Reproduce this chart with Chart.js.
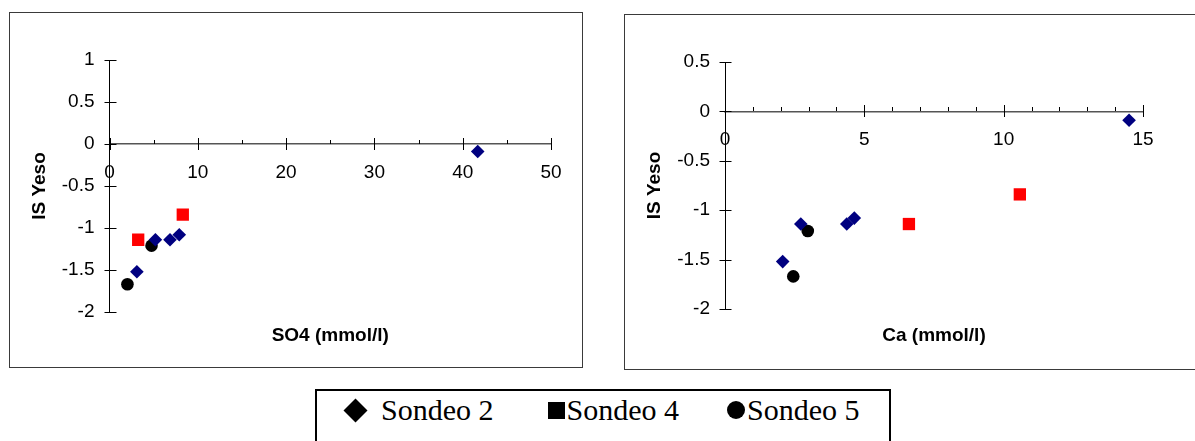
<!DOCTYPE html>
<html>
<head>
<meta charset="utf-8">
<script src="https://cdn.jsdelivr.net/npm/chart.js@4.4.1/dist/chart.umd.min.js"></script>
<style>
  html, body { margin: 0; padding: 0; background: #fff; overflow: hidden; }
  body { width: 1195px; height: 441px; position: relative; }
  .marco { position: absolute; border: 1px solid #3a3a3a; background: #fff; }
  #marcoSO4 { left: 9px; top: 12px; width: 572px; height: 354px; }
  #marcoCa { left: 624px; top: 14px; width: 580px; height: 354px; }
  .marco canvas { display: block; }
  #leyenda {
    position: absolute; left: 315px; top: 389px; width: 576px; height: 60px;
    border: 2px solid #000; box-sizing: border-box;
    font-family: 'Liberation Serif', 'Times New Roman', serif; font-size: 30px;
    line-height: 30px; color: #000;
    display: flex; align-items: flex-start; padding-left: 26px; padding-top: 4px;
  }
  #leyenda .item { display: flex; align-items: center; white-space: nowrap; }
  #leyenda .simbolo { display: inline-block; background: #000; }
  .rombo { width: 17px; height: 17px; transform: rotate(45deg); margin: 0 17px 0 4px; }
  .cuadro { width: 17px; height: 17px; margin-right: 2px; }
  .circulo { width: 18px; height: 18px; border-radius: 50%; margin-right: 2px; }
</style>
</head>
<body>
<div class="marco" id="marcoSO4"><canvas id="graficoSO4"></canvas></div>
<div class="marco" id="marcoCa"><canvas id="graficoCa"></canvas></div>
<div id="leyenda"></div>

<script>
// Sondeos
const sondeos = ['Sondeo 2', 'Sondeo 4', 'Sondeo 5'];

// IS yeso, SO4 y Ca (mmol/l) por sondeo
const isYesoS2 = [-0.09, -1.52, -1.14, -1.14, -1.08];
const so4S2 = [41.7, 3.1, 5.2, 6.85, 7.9];
const caS2 = [14.5, 2.07, 2.72, 4.37, 4.64];

const isYesoS4 = [-1.14, -0.84];
const so4S4 = [3.25, 8.3];
const caS4 = [6.6, 10.58];

const isYesoS5 = [-1.67, -1.21];
const so4S5 = [2.03, 4.76];
const caS5 = [2.45, 2.97];

// etiquetas de los ejes
const ticksSO4 = [0, 10, 20, 30, 40, 50];
const ticksCa = [0, 5, 10, 15];
const ticksYesoSO4 = [1, 0.5, 0, -0.5, -1, -1.5, -2];
const ticksYesoCa = [0.5, 0, -0.5, -1, -1.5, -2];
const menorSO4 = 5;
const menorCa = 1;

const fuente = '"Liberation Sans", Arial, sans-serif';

function puntos(xs, ys) {
    return xs.map((x, i) => ({ x: x, y: ys[i] }));
}

// marcas de los ejes (las principales cruzan el eje)
const marcasEjes = {
    id: 'marcasEjes',
    beforeDatasetsDraw(chart, args, opts) {
        const { ctx, scales: { x, y } } = chart;
        const y0 = Math.round(y.getPixelForValue(0));
        const x0 = Math.round(x.getPixelForValue(0)) + 0.5;
        ctx.save();
        ctx.lineWidth = 1;
        ctx.strokeStyle = '#000';
        ctx.beginPath();
        for (let v = x.min; v <= x.max + 1e-9; v += opts.menor) {
            const px = Math.round(x.getPixelForValue(v)) + 0.5;
            const mayor = x.ticks.some(t => Math.abs(t.value - v) < 1e-9);
            ctx.moveTo(px, y0 - (mayor ? 6 : 4));
            ctx.lineTo(px, y0 + (mayor ? 6 : 0));
        }
        y.ticks.forEach(t => {
            const py = Math.round(y.getPixelForValue(t.value)) + 0.5;
            ctx.moveTo(x0 - 6, py);
            ctx.lineTo(x0 + 6, py);
        });
        ctx.stroke();
        ctx.restore();
    }
};

// titulos de los ejes
const titulosEjes = {
    id: 'titulosEjes',
    afterDraw(chart, args, opts) {
        const { ctx, chartArea } = chart;
        ctx.save();
        ctx.font = 'bold 19px ' + fuente;
        ctx.fillStyle = '#000';
        ctx.textAlign = 'center';
        ctx.textBaseline = 'middle';
        ctx.fillText(opts.x, (chartArea.left + chartArea.right) / 2, opts.xY);
        ctx.translate(opts.yX, (chartArea.top + chartArea.bottom) / 2);
        ctx.rotate(-Math.PI / 2);
        ctx.fillText(opts.y, 0, 0);
        ctx.restore();
    }
};

function crearGrafico(id, xs, tituloX, ticksX, menorX, ticksY, area) {
    return new Chart(document.getElementById(id), {
        type: 'scatter',
        data: {
            datasets: [
                {
                    label: sondeos[0],
                    data: puntos(xs[0], isYesoS2),
                    pointStyle: 'rectRot',
                    pointRadius: 6.8,
                    backgroundColor: '#000080',
                    borderColor: '#000080',
                    borderWidth: 0
                },
                {
                    label: sondeos[1],
                    data: puntos(xs[1], isYesoS4),
                    pointStyle: 'rect',
                    pointRadius: 8.7,
                    backgroundColor: '#ff0000',
                    borderColor: '#ff0000',
                    borderWidth: 0
                },
                {
                    label: sondeos[2],
                    data: puntos(xs[2], isYesoS5),
                    pointStyle: 'circle',
                    pointRadius: 6.3,
                    backgroundColor: '#000',
                    borderColor: '#000',
                    borderWidth: 0
                }
            ]
        },
        options: {
            responsive: true,
            maintainAspectRatio: false,
            animation: false,
            locale: 'en-US',
            layout: {
                padding: { left: 0, top: area.top, right: area.right, bottom: area.bottom }
            },
            scales: {
                x: {
                    type: 'linear',
                    position: { y: 0 },
                    min: ticksX[0],
                    max: ticksX[ticksX.length - 1],
                    afterBuildTicks: s => { s.ticks = ticksX.map(v => ({ value: v })); },
                    ticks: {
                        color: '#000', font: { family: fuente, size: 19 }, padding: 17,
                        maxRotation: 0, autoSkip: false, callback: v => String(v)
                    },
                    grid: { drawOnChartArea: false, drawTicks: false },
                    border: { color: '#555', width: 1.5 }
                },
                y: {
                    type: 'linear',
                    position: 'left',
                    min: ticksY[ticksY.length - 1],
                    max: ticksY[0],
                    afterBuildTicks: s => { s.ticks = ticksY.map(v => ({ value: v })); },
                    afterFit: s => { s.width = area.left; },
                    ticks: {
                        color: '#000', font: { family: fuente, size: 19 }, padding: 15,
                        autoSkip: false, callback: v => String(v)
                    },
                    grid: { drawOnChartArea: false, drawTicks: false },
                    border: { color: '#000', width: 1 }
                }
            },
            plugins: {
                legend: { display: false },
                tooltip: { enabled: false },
                marcasEjes: { menor: menorX },
                titulosEjes: { x: tituloX, y: 'IS Yeso', xY: area.tituloX, yX: 30 }
            }
        },
        plugins: [marcasEjes, titulosEjes]
    });
}

crearGrafico('graficoSO4', [so4S2, so4S4, so4S5], 'SO4 (mmol/l)', ticksSO4, menorSO4, ticksYesoSO4,
    { left: 99.5, top: 47, right: 31, bottom: 55, tituloX: 323 });

crearGrafico('graficoCa', [caS2, caS4, caS5], 'Ca (mmol/l)', ticksCa, menorCa, ticksYesoCa,
    { left: 100, top: 47, right: 62, bottom: 60, tituloX: 321 });

// leyenda común
const simbolos = ['rombo', 'cuadro', 'circulo'];
const margenes = [0, 54, 48];
const leyenda = document.getElementById('leyenda');
sondeos.forEach((nombre, i) => {
    const item = document.createElement('span');
    item.className = 'item';
    item.style.marginLeft = margenes[i] + 'px';
    const simbolo = document.createElement('span');
    simbolo.className = 'simbolo ' + simbolos[i];
    item.appendChild(simbolo);
    item.appendChild(document.createTextNode(nombre));
    leyenda.appendChild(item);
});
</script>
</body>
</html>
